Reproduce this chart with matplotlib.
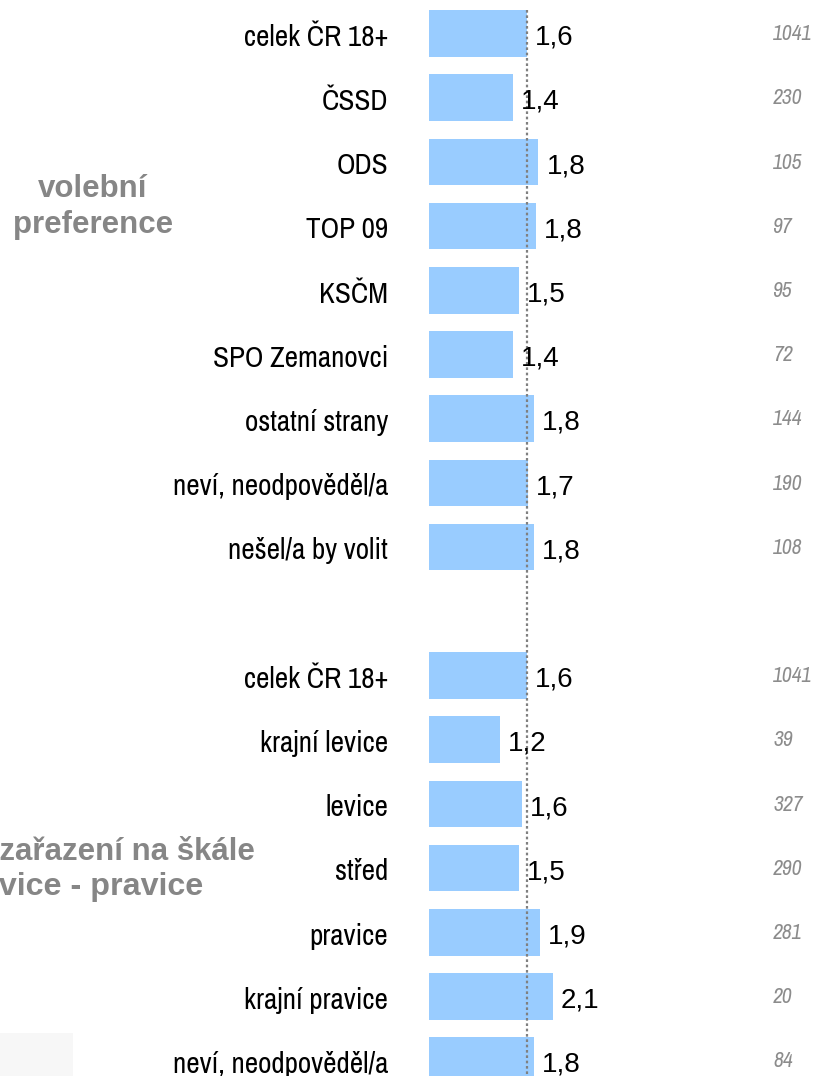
import matplotlib
matplotlib.use("Agg")
import matplotlib.pyplot as plt
from matplotlib import transforms
from matplotlib.patches import Rectangle

# ---- data ----
group1_labels = ["celek ČR 18+", "ČSSD", "ODS", "TOP 09", "KSČM", "SPO Zemanovci",
                 "ostatní strany", "neví, neodpověděl/a", "nešel/a by volit"]
group1_values = [1.64, 1.41, 1.84, 1.80, 1.51, 1.41, 1.76, 1.66, 1.76]
group1_counts = [1041, 230, 105, 97, 95, 72, 144, 190, 108]

group2_labels = ["celek ČR 18+", "krajní levice", "levice", "střed", "pravice",
                 "krajní pravice", "neví, neodpověděl/a"]
group2_values = [1.64, 1.19, 1.56, 1.51, 1.86, 2.08, 1.76]
group2_counts = [1041, 39, 327, 290, 281, 20, 84]

group1_title = "volební\npreference"
group2_title = ["sebezařazení na škále", "levice - pravice"]
reference_value = group1_values[0]

# ---- layout ----
W, H = 813, 1076
X0 = 429.0      # pixel of value 0
S = 59.5        # pixels per unit
Y0 = 33.5       # pixel centre of first row
DY = 64.2       # pixels per row

fig = plt.figure(figsize=(W / 100, H / 100), dpi=100)
ax = fig.add_axes([0, 0, 1, 1])
ax.set_xlim(-X0 / S, (W - X0) / S)
ax.set_ylim((H - Y0) / DY, -Y0 / DY)
ax.axis("off")

labels = group1_labels + [None] + group2_labels
values = group1_values + [None] + group2_values
counts = group1_counts + [None] + group2_counts

bar_color = "#99CCFF"
tr = transforms.blended_transform_factory(ax.transAxes, ax.transData)

narrow = ["Archivo Narrow", "DejaVu Sans"]
regular = ["Liberation Sans", "DejaVu Sans"]

for i, (lab, v, n) in enumerate(zip(labels, values, counts)):
    if lab is None:
        continue
    ax.barh(i, v, height=0.727, color=bar_color, left=0, zorder=1)
    ax.text(388 / W, i + 0.02, lab, transform=tr, ha="right", va="center_baseline",
            fontsize=21, family=narrow, color="black")
    ax.text(v + 8 / S, i + 0.02, f"{v:.1f}".replace(".", ","), ha="left",
            va="center_baseline", fontsize=20, family=regular, color="black", zorder=3)
    ax.text(773 / W, i - 0.02, str(n), ha="left", va="center_baseline", transform=tr,
            fontsize=15.5, family=narrow, style="italic", color="#8c8c8c")

# dotted reference line
ax.plot([reference_value, reference_value], [-0.365, 17], color="#808080",
        linestyle=(0, (1.2, 1.2)), linewidth=1.6, zorder=2)

# group titles
title_kw = dict(transform=ax.transAxes, fontsize=22.5, fontweight="bold",
                color="#868686", family=regular, va="baseline")
t1, t2 = group1_title.split("\n")
ax.text(93 / W, 1 - 197 / H, t1, ha="center", **title_kw)
ax.text(93 / W, 1 - 233 / H, t2, ha="center", **title_kw)
ax.text(255 / W, 1 - 860 / H, group2_title[0], ha="right", **title_kw)
ax.text(203 / W, 1 - 895 / H, group2_title[1], ha="right",
        **{**title_kw, "fontsize": 23.2})

# faint patch bottom-left
fig.patches.append(Rectangle((0, 0), 73 / W, 43 / H, transform=fig.transFigure,
                             facecolor="#f7f7f7", edgecolor="none", zorder=0))

fig.savefig("out.png", dpi=100, facecolor="white")
